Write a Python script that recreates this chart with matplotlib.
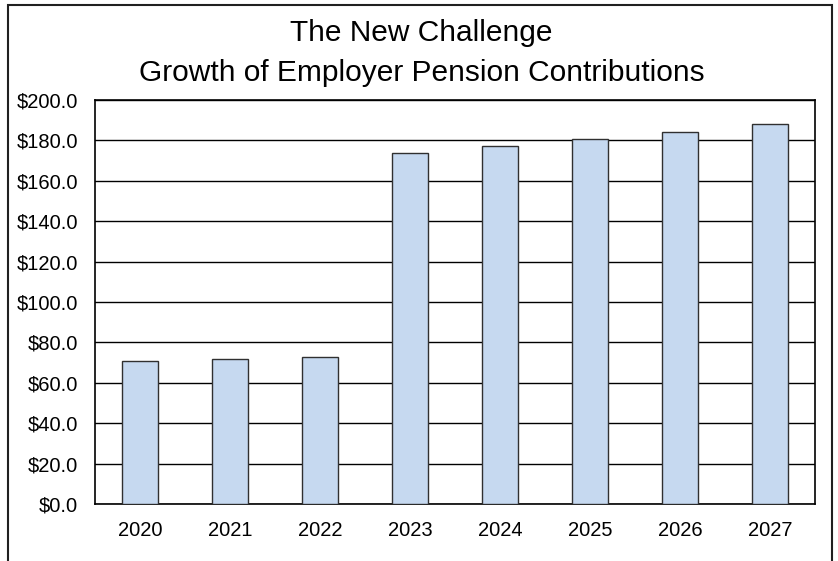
import matplotlib

matplotlib.use("Agg", force=True)

import matplotlib.pyplot as plt
from matplotlib.patches import Rectangle

years = ['2020', '2021', '2022', '2023', '2024', '2025', '2026', '2027']
contributions = [71.0, 72.0, 73.0, 174.0, 177.0, 180.5, 184.0, 188.0]
y_ticks = [0, 20, 40, 60, 80, 100, 120, 140, 160, 180, 200]

plt.rcParams['font.family'] = ['Liberation Sans', 'DejaVu Sans']

fig = plt.figure(figsize=(8.38, 5.61), dpi=100)
ax = fig.add_axes([0.1134, 0.1016, 0.8592, 0.7201])

x = range(len(years))
ax.bar(x, contributions, width=0.4, color='#C6D9F0', edgecolor='#303030',
       linewidth=1.0, zorder=3)

ax.set_xlim(-0.5, len(years) - 0.5)
ax.set_ylim(0, 200)
ax.set_xticks(list(x))
ax.set_xticklabels(years)
ax.set_yticks(y_ticks)
ax.set_yticklabels([f'${v:.1f}' for v in y_ticks])
ax.tick_params(axis='both', length=0, labelsize=14.5, colors='black')
ax.tick_params(axis='y', pad=12)
ax.tick_params(axis='x', pad=12)

ax.set_axisbelow(True)
ax.yaxis.grid(True, color='black', linewidth=1.0)
for sp in ax.spines.values():
    sp.set_color('black')
    sp.set_linewidth(1.2)

# two-line title
fig.text(0.503, 0.927, 'The New Challenge', ha='center', va='baseline', fontsize=21.5)
fig.text(0.503, 0.855, 'Growth of Employer Pension Contributions',
         ha='center', va='baseline', fontsize=21.5)

# outer chart frame, open past the bottom edge
frame = Rectangle((8 / 838, -0.05), 824 / 838, 1.05 - 5 / 561,
                  transform=fig.transFigure, fill=False,
                  edgecolor='#202020', linewidth=1.5)
fig.patches.append(frame)

fig.savefig('out.png', dpi=100)
plt.close(fig)
